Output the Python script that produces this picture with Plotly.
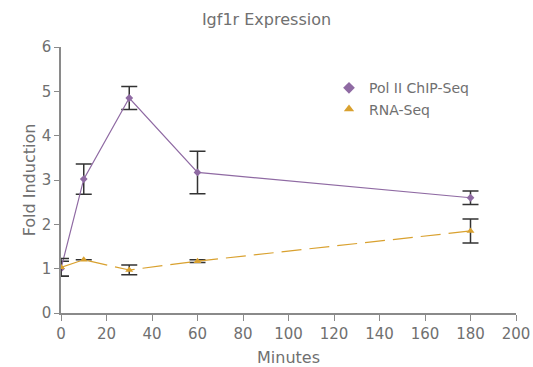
import plotly.graph_objects as go

minutes = [0, 10, 30, 60, 180]

pol2_fold = [1.0, 3.02, 4.85, 3.17, 2.6]
pol2_err = [0.17, 0.34, 0.26, 0.48, 0.15]

rna_fold = [1.03, 1.2, 0.97, 1.17, 1.85]
rna_err = [0.2, 0.0, 0.11, 0.03, 0.27]

PURPLE = "#8f6aa3"
GOLD = "#d9a12f"
GRAY = "#707070"
FONT = "DejaVu Sans, sans-serif"

fig = go.Figure()
fig.add_trace(go.Scatter(
    x=minutes, y=pol2_fold, name="Pol II ChIP-Seq", showlegend=False,
    mode="lines+markers",
    line=dict(color=PURPLE, width=1.2),
    marker=dict(symbol="diamond", size=6, color=PURPLE),
    error_y=dict(type="data", array=pol2_err, color="#333333", thickness=1.5, width=8),
))
fig.add_trace(go.Scatter(
    x=minutes, y=rna_fold, name="RNA-Seq", showlegend=False,
    mode="lines+markers",
    line=dict(color=GOLD, width=1.2, dash="20px,8px"),
    marker=dict(symbol="triangle-up", size=7, color=GOLD),
    error_y=dict(type="data", array=rna_err, color="#333333", thickness=1.5, width=8),
))
# legend entries (markers only, as in the original)
fig.add_trace(go.Scatter(x=[None], y=[None], name="Pol II ChIP-Seq", mode="markers",
                         marker=dict(symbol="diamond", size=9, color=PURPLE)))
fig.add_trace(go.Scatter(x=[None], y=[None], name="RNA-Seq", mode="markers",
                         marker=dict(symbol="triangle-up", size=9, color=GOLD)))

fig.update_layout(
    width=533, height=367,
    margin=dict(l=61, r=17, t=47, b=54),
    paper_bgcolor="white", plot_bgcolor="white",
    font=dict(family=FONT, color=GRAY, size=14),
    title=dict(text="Igf1r Expression", x=0.5, xanchor="center", y=0.946, yanchor="middle",
               font=dict(size=16, color=GRAY), automargin=False),
    legend=dict(x=0.589, y=0.905, xanchor="left", yanchor="top",
                font=dict(size=14, color=GRAY), bgcolor="rgba(0,0,0,0)",
                tracegroupgap=0, itemwidth=30),
    showlegend=True,
)
fig.update_xaxes(
    range=[0, 200], dtick=20, automargin=False,
    title=dict(text="Minutes", font=dict(size=16, color=GRAY), standoff=10),
    showline=True, linecolor="#8a8a8a", linewidth=1.5,
    ticks="outside", tickcolor="#8a8a8a", ticklen=6, showgrid=False, zeroline=False,
    tickfont=dict(size=15),
)
fig.update_yaxes(
    range=[0, 6], dtick=1, automargin=False,
    title=dict(text="Fold Induction", font=dict(size=16, color=GRAY), standoff=2),
    showline=True, linecolor="#8a8a8a", linewidth=1.5,
    ticks="outside", tickcolor="#8a8a8a", ticklen=5, showgrid=False, zeroline=False,
    tickfont=dict(size=15),
)

# drop the page's default body margin so the figure fills the window exactly
fig.write_html("out.html",
               config={"displayModeBar": False},
               post_script="document.body.style.margin='0';document.body.style.overflow='hidden';")
